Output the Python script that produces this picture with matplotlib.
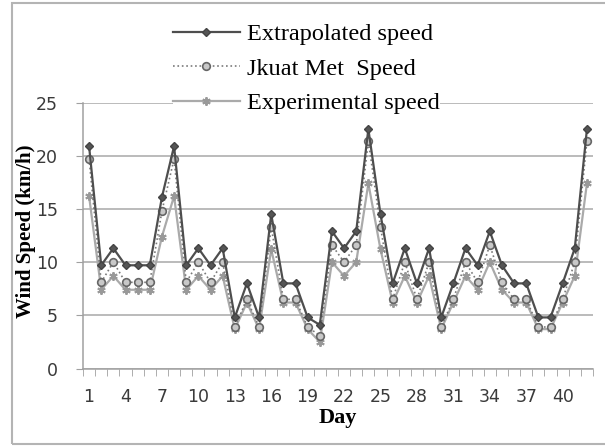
import matplotlib
matplotlib.use("Agg")
import matplotlib.pyplot as plt
from matplotlib.ticker import FixedLocator
from matplotlib.patches import Rectangle

plt.rcParams["font.family"] = "DejaVu Sans"

# values (km/h)
days = list(range(1, 43))
extrapolated = [20.9, 9.7, 11.3, 9.7, 9.7, 9.7, 16.1, 20.9, 9.7, 11.3,
                9.7, 11.3, 4.8, 8.0, 4.8, 14.5, 8.0, 8.0, 4.8, 4.1,
                12.9, 11.3, 12.9, 22.5, 14.5, 8.0, 11.3, 8.0, 11.3, 4.8,
                8.0, 11.3, 9.7, 12.9, 9.7, 8.0, 8.0, 4.8, 4.8, 8.0,
                11.3, 22.5]
jkuat = [19.7, 8.1, 10.0, 8.1, 8.1, 8.1, 14.8, 19.7, 8.1, 10.0,
         8.1, 10.0, 3.9, 6.5, 3.9, 13.3, 6.5, 6.5, 3.9, 3.1,
         11.6, 10.0, 11.6, 21.4, 13.3, 6.5, 10.0, 6.5, 10.0, 3.9,
         6.5, 10.0, 8.1, 11.6, 8.1, 6.5, 6.5, 3.9, 3.9, 6.5,
         10.0, 21.4]
experimental = [16.2, 7.4, 8.7, 7.4, 7.4, 7.4, 12.4, 16.2, 7.4, 8.7,
                7.4, 8.7, 3.7, 6.2, 3.7, 11.2, 6.2, 6.2, 3.7, 2.5,
                10.0, 8.7, 10.0, 17.4, 11.2, 6.2, 8.7, 6.2, 8.7, 3.7,
                6.2, 8.7, 7.4, 10.0, 7.4, 6.2, 6.2, 3.7, 3.7, 6.2,
                8.7, 17.4]
x_labels = list(range(1, 41, 3))
y_ticks = [0, 5, 10, 15, 20, 25]

fig = plt.figure(figsize=(6.05, 4.46), dpi=100)
W, H = 605, 446
ax = fig.add_axes([83 / W, 1 - 368.5 / H, (593 - 83) / W, (368.5 - 102.5) / H])

ax.plot(days, extrapolated, color="#4e4e4e", lw=1.6, marker="D", ms=4.5,
        mfc="#555555", mec="#444444", label="Extrapolated speed", zorder=5)
ax.plot(days, jkuat, color="#7a7a7a", lw=1.2, ls=":", marker="o", ms=5.5,
        mfc="#c8c8c8", mec="#666666", mew=1.2, label="Jkuat Met  Speed", zorder=4)
ax.plot(days, experimental, color="#aaaaaa", lw=1.6, marker=(6, 2, 0), ms=6,
        mec="#999999", mew=1.4, label="Experimental speed", zorder=3)

ax.set_xlim(0.5, 42.5)
ax.set_ylim(0, 25)
ax.set_yticks(y_ticks)
ax.set_xticks(x_labels)
ax.xaxis.set_minor_locator(FixedLocator([d + 0.5 for d in range(0, 43)]))
ax.grid(axis="y", color="#a8a8a8", lw=1.1)
ax.set_axisbelow(True)

for s in ["top", "right"]:
    ax.spines[s].set_visible(False)
for s in ["left", "bottom"]:
    ax.spines[s].set_color("#a0a0a0")
    ax.spines[s].set_linewidth(1.1)

ax.tick_params(axis="x", which="major", length=0, pad=14, labelsize=12.5,
               labelcolor="#3a3a3a")
ax.tick_params(axis="x", which="minor", length=5, direction="out", color="#a0a0a0")
ax.tick_params(axis="y", which="major", length=5, direction="out", color="#a0a0a0",
               pad=13, labelsize=12.5, labelcolor="#3a3a3a")
for lbl in ax.get_xticklabels() + ax.get_yticklabels():
    lbl.set_fontfamily("DejaVu Sans")

leg = ax.legend(loc="upper left", bbox_to_anchor=(173 / W, 1 - 23 / H),
                bbox_transform=fig.transFigure, frameon=True, facecolor="white",
                edgecolor="none", framealpha=1, borderpad=0, borderaxespad=0,
                handlelength=2.75, handletextpad=0.3, labelspacing=0.52,
                prop={"family": "Liberation Serif", "size": 17.5})
leg.set_zorder(10)

fig.text(338 / W, 1 - 418 / H, "Day", ha="center", va="center",
         family="Liberation Serif", weight="bold", size=16)
fig.text(26 / W, 1 - 231 / H, "Wind Speed (km/h)", ha="center", va="center",
         rotation=90, family="Liberation Serif", weight="bold", size=15)

# outer chart border
fig.patches.append(Rectangle((12 / W, 1 - 444 / H), 1.0, (444 - 3) / H,
                             transform=fig.transFigure, fill=False,
                             edgecolor="#b4b4b4", lw=1.5))

fig.savefig("out.png", dpi=100)
